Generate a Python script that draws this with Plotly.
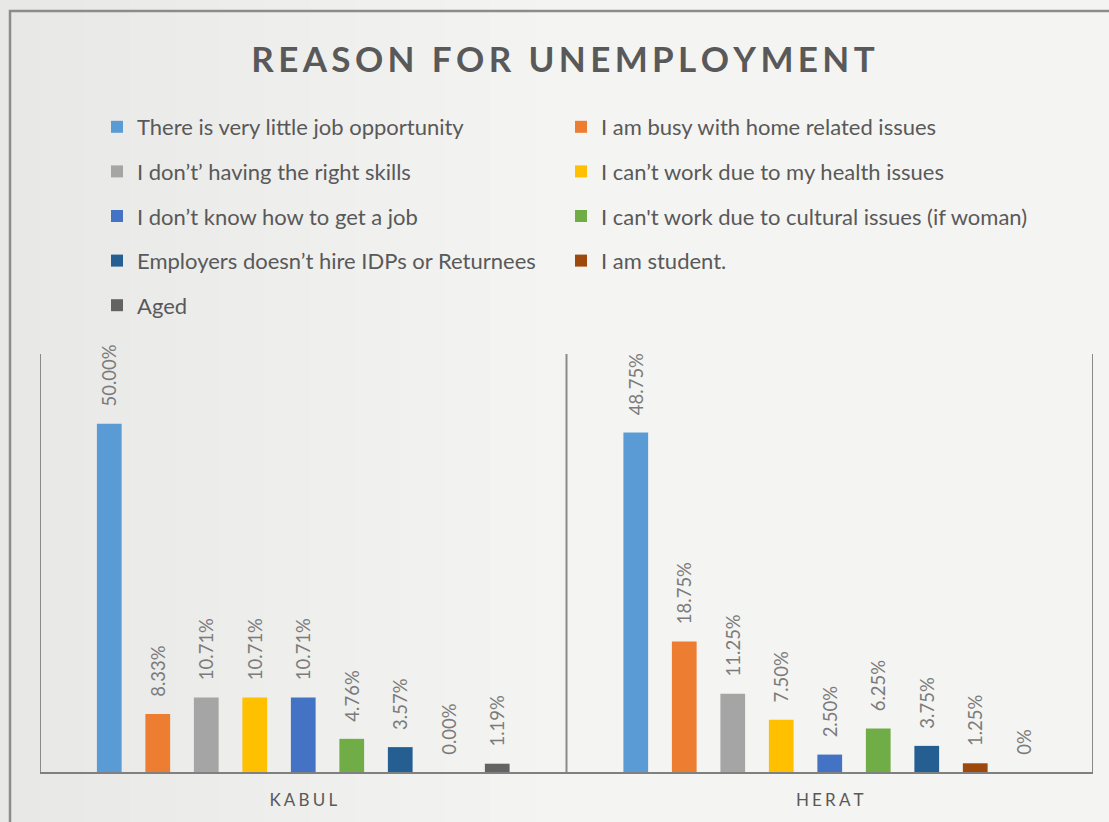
import plotly.graph_objects as go

# ---- data -------------------------------------------------------------
cities = ["KABUL", "HERAT"]

reasons = [
    "There is very little job opportunity",
    "I am busy with home related issues",
    "I don’t’ having the right skills",
    "I can’t work due to my health issues",
    "I don’t know how to get a job",
    "I can't work due to cultural issues (if woman)",
    "Employers doesn’t hire IDPs or Returnees",
    "I am student.",
    "Aged",
]

kabul_pct = [50.00, 8.33, 10.71, 10.71, 10.71, 4.76, 3.57, 0.00, 1.19]
herat_pct = [48.75, 18.75, 11.25, 7.50, 2.50, 6.25, 3.75, 1.25, 0.00]

# decimals shown in each data label
kabul_decimals = [2, 2, 2, 2, 2, 2, 2, 2, 2]
herat_decimals = [2, 2, 2, 2, 2, 2, 2, 2, 0]

colors = ["#5B9BD5", "#ED7D31", "#A5A5A5", "#FFC000", "#4472C4",
          "#70AD47", "#255E91", "#9E480E", "#636363"]

# ---- figure geometry --------------------------------------------------
W, H = 1109, 822
L, R, T, B = 40, 16, 354, 50
PW = W - L - R
PH = H - T - B

FONT = "Lato"
NBSP = "\u00a0"


def spaced(s, sep="\u2009"):
    return sep.join(list(s))


def label(v, d):
    return NBSP * 3 + f"{v:.{d}f}%"


def px_x(px):
    return (px - L) / PW


def px_y(py):
    return (H - B - py) / PH


fig = go.Figure()
for i, name in enumerate(reasons):
    fig.add_bar(
        x=cities,
        y=[kabul_pct[i], herat_pct[i]],
        name=name,
        marker=dict(color=colors[i], line=dict(width=0)),
        text=[label(kabul_pct[i], kabul_decimals[i]),
              label(herat_pct[i], herat_decimals[i])],
        textposition="outside",
        textangle=-90,
        constraintext="none",
        cliponaxis=False,
        textfont=dict(family=FONT, size=18.5, color="#7b7b7b"),
        legend="legend" if i % 2 == 0 else "legend2",
        legendgroup=name,
        hoverinfo="skip",
    )

shapes = []
# soft left-to-right shading of the slide background
for k in range(12):
    shapes.append(dict(
        type="rect", xref="paper", yref="paper", layer="below",
        x0=px_x(0), x1=px_x(40 + k * 45), y0=px_y(H + 5), y1=px_y(-5),
        fillcolor="rgba(120,120,120,0.006)", line=dict(width=0),
    ))
# outer frame
shapes.append(dict(
    type="rect", xref="paper", yref="paper",
    x0=px_x(10), x1=px_x(W + 20), y0=px_y(H + 20), y1=px_y(11),
    line=dict(color="#8c8c8c", width=2.5), fillcolor="rgba(0,0,0,0)",
))
# category separators
for xb in [-0.5, 0.5, 1.5]:
    shapes.append(dict(
        type="line", xref="x", yref="y domain", x0=xb, x1=xb, y0=0, y1=1,
        line=dict(color="#8a8a8a", width=2),
    ))

legend_common = dict(
    xref="container", yref="container", xanchor="left", yanchor="top",
    orientation="v", bgcolor="rgba(0,0,0,0)", borderwidth=0,
    font=dict(family=FONT, size=22, color="#595959"),
    tracegroupgap=13, itemclick=False, itemdoubleclick=False,
)

fig.update_layout(
    width=W, height=H,
    margin=dict(l=L, r=R, t=T, b=B, autoexpand=False),
    paper_bgcolor="#f4f4f2",
    plot_bgcolor="rgba(0,0,0,0)",
    barmode="group",
    bargap=0.171,
    bargroupgap=0.49,
    title=dict(
        text="<b>" + spaced("REASON FOR UNEMPLOYMENT") + "</b>",
        x=563 / W, xanchor="center", xref="container",
        y=1 - 60 / H, yanchor="middle", yref="container",
        font=dict(family=FONT, size=35, color="#595959"),
    ),
    xaxis=dict(
        range=[-0.5, 1.5],
        showline=True, linecolor="#808080", linewidth=2,
        showgrid=False, zeroline=False,
        ticks="outside", ticklen=12, tickcolor="rgba(0,0,0,0)",
        tickvals=cities, ticktext=[spaced(c, "\u2009\u200a") for c in cities],
        tickfont=dict(family=FONT, size=17, color="#595959"),
        tickangle=0, automargin=False,
        fixedrange=True,
    ),
    yaxis=dict(range=[0, 60], visible=False, fixedrange=True, automargin=False),
    legend=dict(x=97 / W, y=1 - 106 / H, **legend_common),
    legend2=dict(x=561 / W, y=1 - 106 / H, **legend_common),
    shapes=shapes,
    showlegend=True,
)

fig.write_html("out.html")
